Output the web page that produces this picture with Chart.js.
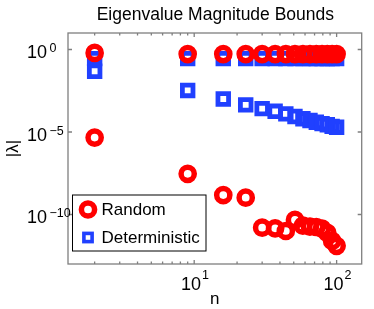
<!DOCTYPE html>
<html><head><meta charset="utf-8">
<script src="https://cdn.jsdelivr.net/npm/chart.js@4.4.0/dist/chart.umd.min.js"></script>
<style>html,body{margin:0;padding:0;background:#fff}#wrap{width:374px;height:309px;position:relative}</style>
</head><body><div id="wrap"><canvas id="c"></canvas></div>
<script>
const chartTitle = 'Eigenvalue Magnitude Bounds';
const xLabel = 'n';
const yLabel = '|λ|';
const seriesNames = ['Random', 'Deterministic'];
const nValues = [2, 9, 16, 23, 30, 37, 44, 51, 58, 65, 72, 79, 86, 93, 100];
const randomUpper = [0.62, 0.53, 0.53, 0.53, 0.53, 0.53, 0.53, 0.53, 0.53, 0.53, 0.53, 0.53, 0.53, 0.53, 0.53];
const randomLower = [4.6e-6, 2.9e-8, 1.5e-9, 1.05e-9, 1.6e-11, 1.45e-11, 1.0e-11, 4.7e-11, 2.1e-11, 1.85e-11, 1.75e-11, 1.4e-11, 7.6e-12, 2.5e-12, 1.26e-12];
const detUpper = [0.28, 0.28, 0.28, 0.28, 0.28, 0.28, 0.28, 0.28, 0.28, 0.28, 0.28, 0.28, 0.28, 0.28, 0.28];
const detLower = [0.048, 3.3e-3, 1.0e-3, 4.4e-4, 2.6e-4, 1.8e-4, 1.26e-4, 8.7e-5, 6.3e-5, 5.0e-5, 3.9e-5, 3.2e-5, 2.75e-5, 2.2e-5, 1.95e-5];
const xMajorTicks = [10, 100];
const xTickExponents = ['1', '2'];
const xMinorTicks = [2, 3, 4, 5, 6, 7, 8, 9, 20, 30, 40, 50, 60, 70, 80, 90];
const yMajorTicks = [1, 1e-5, 1e-10];
const yTickExponents = ['0', '\u22125', '\u221210'];

const RED = '#ff0000';
const BLUE = 'rgb(32,64,255)';
const FONT = '"Liberation Sans", Arial, Helvetica, sans-serif';

const pts = (ys) => nValues.map((n, i) => ({x: n, y: ys[i]}));
const circleDs = (ys) => ({data: pts(ys), pointStyle: 'circle', pointRadius: 6.6, pointBorderWidth: 5.5,
  pointBorderColor: RED, pointBackgroundColor: 'rgba(0,0,0,0)', showLine: false, pointHoverRadius: 6.6});
const squareDs = (ys) => ({data: pts(ys), pointStyle: 'rect', pointRadius: 7.5, pointBorderWidth: 4.8,
  pointBorderColor: BLUE, pointBackgroundColor: 'rgba(0,0,0,0)', showLine: false, pointHoverRadius: 7.5});

const decor = {
  id: 'decor',
  afterDatasetsDraw(chart) {
    const {ctx, chartArea: a, scales: {x, y}} = chart;
    ctx.save();
    ctx.strokeStyle = '#7f7f7f';
    ctx.lineWidth = 1.3;
    ctx.strokeRect(a.left, a.top, a.right - a.left, a.bottom - a.top);
    ctx.beginPath();
    xMajorTicks.forEach(v => { const p = x.getPixelForValue(v);
      ctx.moveTo(p, a.bottom); ctx.lineTo(p, a.bottom - 4); ctx.moveTo(p, a.top); ctx.lineTo(p, a.top + 4); });
    xMinorTicks.forEach(v => { const p = x.getPixelForValue(v);
      ctx.moveTo(p, a.bottom); ctx.lineTo(p, a.bottom - 2.5); ctx.moveTo(p, a.top); ctx.lineTo(p, a.top + 2.5); });
    yMajorTicks.forEach(v => { const p = y.getPixelForValue(v);
      ctx.moveTo(a.left, p); ctx.lineTo(a.left + 4, p); ctx.moveTo(a.right, p); ctx.lineTo(a.right - 4, p); });
    ctx.stroke();

    ctx.fillStyle = '#000';
    const baseFont = '18px ' + FONT, expFont = '12.5px ' + FONT;
    // y tick labels
    yMajorTicks.forEach((v, i) => {
      const p = y.getPixelForValue(v);
      const bx = a.left - 21;
      ctx.font = baseFont; ctx.textAlign = 'right'; ctx.textBaseline = 'alphabetic';
      ctx.fillText('10', bx, p + 8.8);
      ctx.font = expFont; ctx.textAlign = 'left';
      ctx.fillText(yTickExponents[i], bx + 2.5, p + 2.5);
    });
    // x tick labels
    xMajorTicks.forEach((v, i) => {
      const p = x.getPixelForValue(v);
      ctx.font = baseFont; const wb = ctx.measureText('10').width;
      ctx.font = expFont; const we = ctx.measureText(xTickExponents[i]).width;
      const left = p + 0.8 - (wb + 1 + we) / 2;
      ctx.font = baseFont; ctx.textAlign = 'left'; ctx.textBaseline = 'alphabetic';
      ctx.fillText('10', left, a.bottom + 26);
      ctx.font = expFont;
      ctx.fillText(xTickExponents[i], left + wb + 1, a.bottom + 14.6);
    });
    // title
    const cx = (a.left + a.right) / 2;
    ctx.font = '17.5px ' + FONT; ctx.textAlign = 'center'; ctx.textBaseline = 'alphabetic';
    ctx.fillText(chartTitle, cx + 0.5, 20);
    // axis labels
    ctx.font = '17px ' + FONT;
    ctx.fillText(xLabel, cx, 304);
    ctx.save();
    ctx.translate(13.5, 148.5); ctx.rotate(-Math.PI / 2);
    ctx.textBaseline = 'middle';
    ctx.fillText(yLabel, 0, 0);
    ctx.restore();

    // legend
    const lx = a.left + 4, ly = 194.5, lw = 133.5, lh = 56;
    ctx.fillStyle = '#fff'; ctx.fillRect(lx, ly, lw, lh);
    ctx.strokeStyle = '#000'; ctx.lineWidth = 1; ctx.strokeRect(lx + 0.5, ly + 0.5, lw, lh);
    const mx = lx + 16, r1 = ly + 15, r2 = ly + 43;
    ctx.strokeStyle = RED; ctx.lineWidth = 5.5;
    ctx.beginPath(); ctx.arc(mx, r1, 6.6, 0, Math.PI * 2); ctx.stroke();
    ctx.strokeStyle = BLUE; ctx.lineWidth = 3.6;
    ctx.strokeRect(mx - 4.1, r2 - 4.1, 8.2, 8.2);
    ctx.fillStyle = '#000'; ctx.font = '17px ' + FONT; ctx.textAlign = 'left'; ctx.textBaseline = 'middle';
    ctx.fillText(seriesNames[0], lx + 29.5, r1 + 0.5);
    ctx.fillText(seriesNames[1], lx + 29.5, r2 + 0.5);
    ctx.restore();
  }
};

new Chart(document.getElementById('c'), {
  type: 'scatter',
  data: {datasets: [circleDs(randomUpper), circleDs(randomLower), squareDs(detUpper), squareDs(detLower)]},
  options: {
    responsive: true, maintainAspectRatio: false, animation: false, devicePixelRatio: 1,
    layout: {padding: {left: 68, right: 6, top: 33, bottom: 45}},
    plugins: {legend: {display: false}, tooltip: {enabled: false}, title: {display: false}},
    scales: {
      x: {type: 'logarithmic', min: 1.3, max: 150, display: false},
      y: {type: 'logarithmic', min: 1e-13, max: 10, display: false}
    }
  },
  plugins: [decor]
});
</script></body></html>
